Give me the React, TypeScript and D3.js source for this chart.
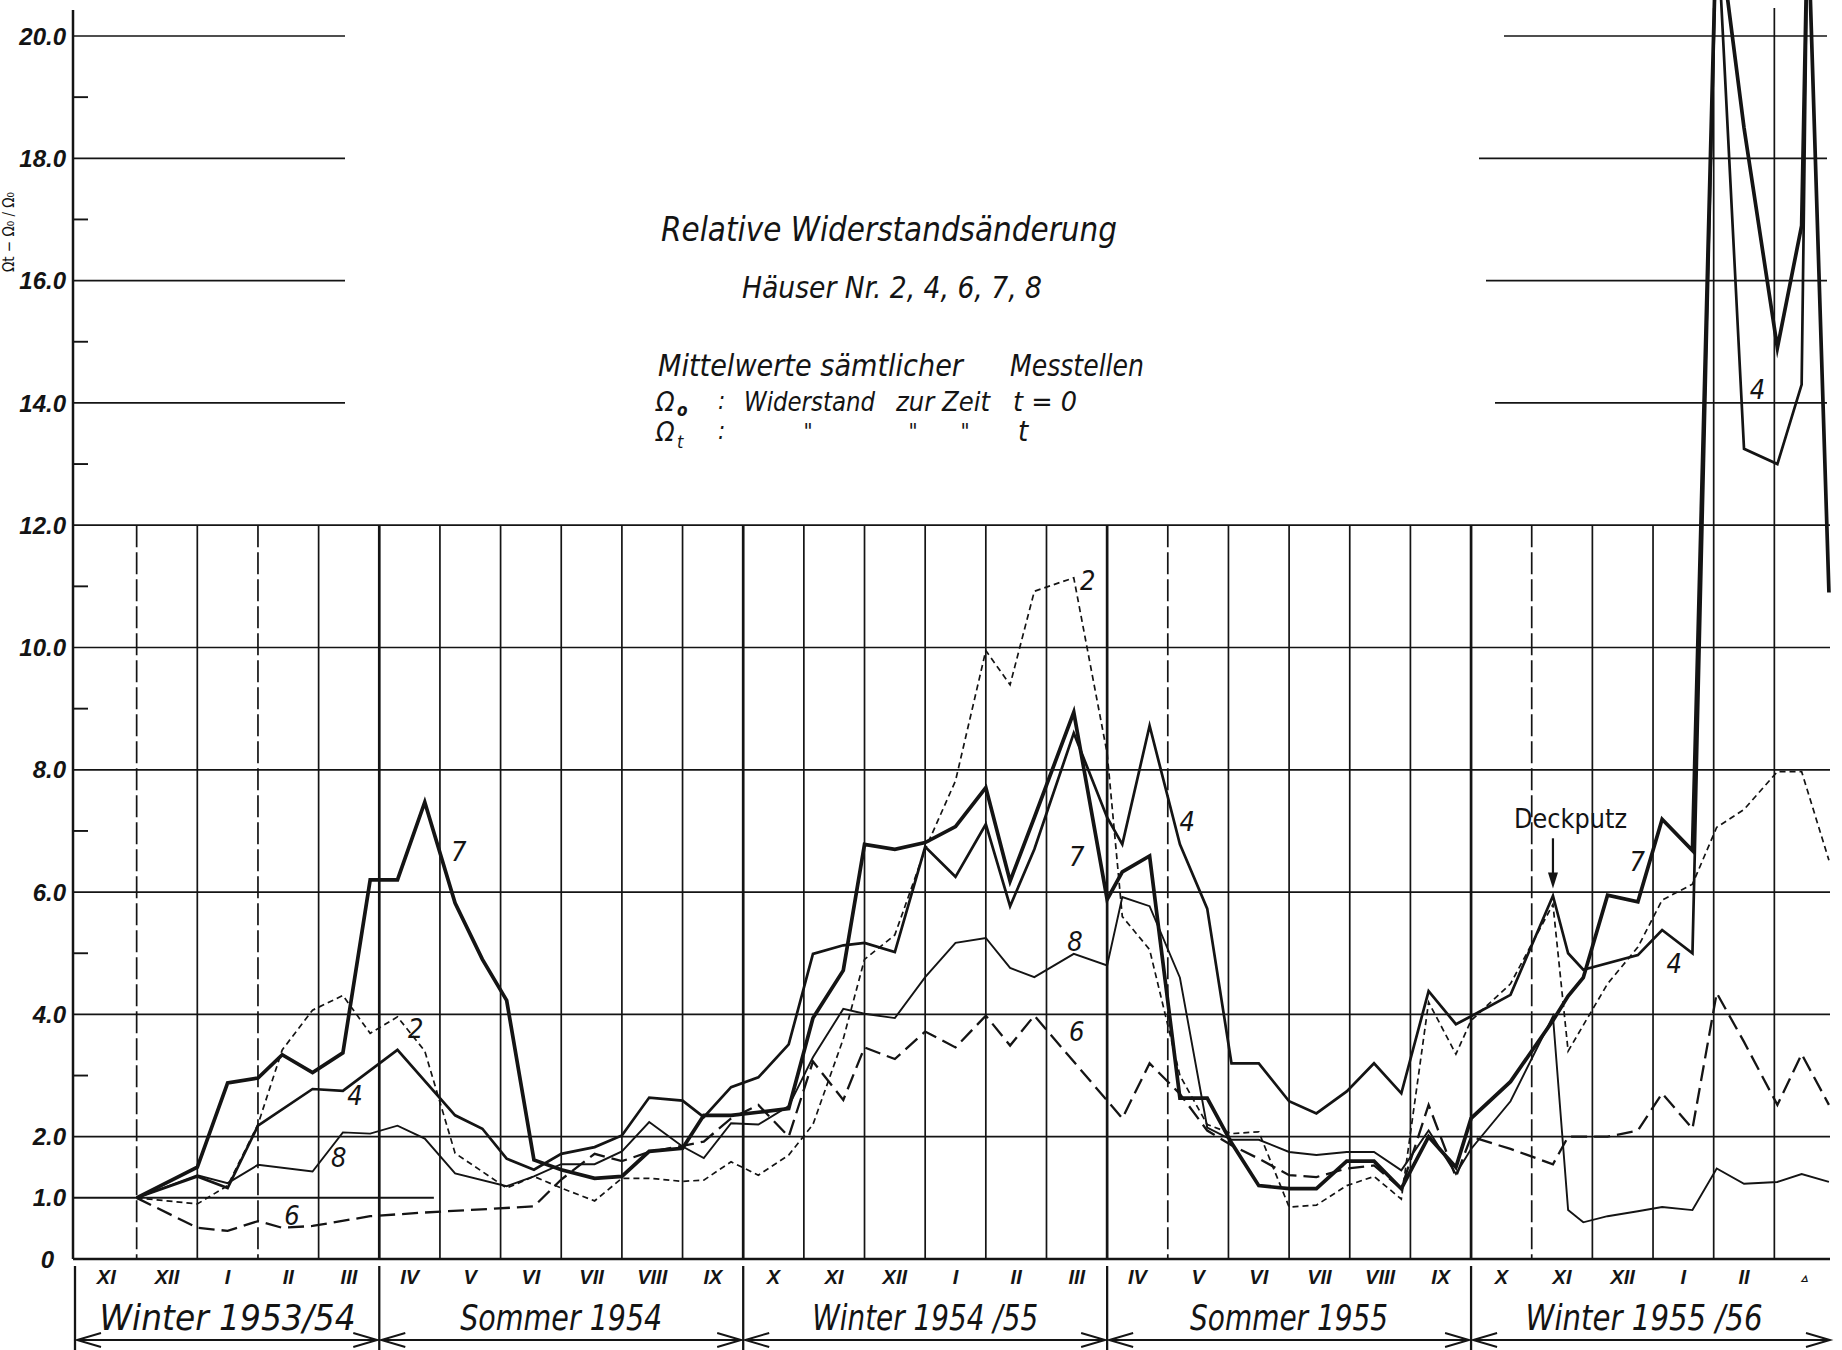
import React from 'react';
import * as d3 from 'd3';

const W = 1842;
const H = 1350;

// measurement times, in months counted from 1 Nov 1953
const times = [1.0, 2.0, 2.5, 3.0, 3.4, 3.9, 4.4, 4.85, 5.3, 5.75,
  6.25, 6.7, 7.1, 7.55, 8.0, 8.55, 9.0, 9.45, 10.0, 10.35,
  10.8, 11.25, 11.75, 12.15, 12.65, 13.0, 13.5, 14.0, 14.5, 15.0,
  15.4, 15.8, 16.45, 17.0, 17.25, 17.7, 18.2, 18.65, 19.05, 19.5,
  20.0, 20.45, 20.95, 21.4, 21.85, 22.3, 22.75, 23.0, 23.65, 24.35,
  24.6, 24.85, 25.25, 25.75, 26.15, 26.65, 27.05, 27.5, 28.05, 28.45,
  28.55, 28.9];

const house7 = [1.0, 1.5, 2.88, 2.96, 3.34, 3.05, 3.37, 6.2, 6.2, 7.47,
  5.82, 4.9, 4.23, 1.62, 1.46, 1.32, 1.35, 1.76, 1.81, 2.35,
  2.35, 2.4, 2.46, 3.94, 4.72, 6.78, 6.7, 6.81, 7.07, 7.71,
  6.18, 7.22, 8.94, 5.88, 6.33, 6.59, 2.63, 2.63, 1.9, 1.2,
  1.15, 1.15, 1.6, 1.6, 1.15, 2.0, 1.5, 2.3, 2.9, 3.9,
  4.3, 4.6, 5.95, 5.84, 7.19, 6.68, 22, 18.5, 14.9, 16.9,
  22, 10.9];

const house4 = [1.0, 1.35, 1.16, 2.18, null, 2.78, 2.75, null, 3.42, null,
  2.35, 2.13, 1.64, 1.46, 1.72, 1.83, 2.02, 2.64, 2.59, 2.32,
  2.81, 2.97, 3.51, 4.99, 5.13, 5.17, 5.02, 6.74, 6.25, 7.11,
  5.77, 6.7, 8.6, 7.22, 6.78, 8.72, 6.78, 5.73, 3.2, 3.2,
  2.58, 2.38, 2.74, 3.2, 2.71, 4.38, 3.84, 3.97, 4.32, 5.94,
  5.0, 4.73, null, 4.97, 5.38, 5.0, 22, 13.25, 13.0, 14.3,
  22, null];

const house8 = [1.0, 1.37, 1.24, 1.54, null, 1.43, 2.07, 2.05, 2.18, 1.97,
  1.4, null, 1.19, 1.35, 1.55, 1.55, 1.76, 2.24, 1.84, 1.65,
  2.22, 2.2, 2.5, 3.3, 4.09, 4.01, 3.94, 4.61, 5.17, 5.25,
  4.76, 4.61, 4.99, 4.8, 5.92, 5.77, 4.6, 2.15, 1.95, 1.95,
  1.75, 1.7, 1.75, 1.75, 1.45, 2.1, 1.39, 1.8, 2.58, 3.97,
  0.8, 0.6, 0.7, 0.78, 0.85, 0.8, 1.48, 1.23, 1.26, 1.39,
  null, 1.26];

const house2 = [1.0, 0.9, 1.2, 2.2, 3.42, 4.07, 4.31, 3.69, 3.96, 3.4,
  1.73, null, 1.16, 1.35, 1.16, 0.95, 1.32, 1.32, 1.27, 1.29,
  1.59, 1.37, 1.7, 2.2, 3.6, 4.9, 5.3, 6.7, 7.82, 9.95,
  9.39, 10.92, 11.14, 8.27, 5.6, 5.06, 3.0, 2.2, 2.05, 2.08,
  0.85, 0.88, 1.2, 1.35, 0.98, 4.2, 3.35, 3.9, 4.5, 5.8,
  3.4, null, 4.5, 5.1, 5.87, 6.13, 7.06, 7.35, 7.97, 7.97,
  null, 6.52];

const house6 = [1.0, 0.51, 0.46, 0.62, 0.51, 0.54, null, 0.7, null, 0.76,
  null, null, null, 0.86, 1.3, 1.72, 1.6, 1.75, 1.85, 1.92,
  2.3, 2.52, 2.0, 3.23, 2.6, 3.46, 3.27, 3.72, 3.46, 3.98,
  3.49, 3.98, null, null, 2.3, 3.2, 2.7, 2.1, 1.86, 1.64,
  1.37, 1.34, 1.48, 1.53, 1.15, 2.52, 1.34, 2.0, 1.8, 1.55,
  2.0, 2.0, 2.0, 2.1, 2.71, 2.13, 4.35, 3.55, 2.52, 3.35,
  null, 2.52];

const monthLabels = ['XI', 'XII', 'I', 'II', 'III', 'IV', 'V', 'VI', 'VII', 'VIII', 'IX',
  'X', 'XI', 'XII', 'I', 'II', 'III', 'IV', 'V', 'VI', 'VII', 'VIII', 'IX',
  'X', 'XI', 'XII', 'I', 'II', '\u25B5'];

const seasonNames = ['Winter 1953/54', 'Sommer 1954', 'Winter 1954 /55', 'Sommer 1955', 'Winter 1955 /56'];
const seasonBounds = [0, 5, 11, 17, 23, 29];

const yTickValues = [0, 1, 2, 4, 6, 8, 10, 12, 14, 16, 18, 20];
const minorTickValues = [3, 5, 7, 9, 11, 13, 15, 17, 19];

const seriesLabels = [
  { text: '7', t: 6.31, v: 6.66 }, { text: '2', t: 5.6, v: 3.77 }, { text: '4', t: 4.6, v: 2.67 },
  { text: '8', t: 4.33, v: 1.67 }, { text: '6', t: 3.56, v: 0.72 },
  { text: '2', t: 16.68, v: 11.1 }, { text: '7', t: 16.5, v: 6.59 }, { text: '8', t: 16.47, v: 5.2 },
  { text: '6', t: 16.5, v: 3.72 }, { text: '4', t: 18.32, v: 7.15 },
  { text: '7', t: 25.74, v: 6.51 }, { text: '4', t: 26.35, v: 4.84 }, { text: '4', t: 27.72, v: 14.23 },
];

const INK = '#141414';
const LETTER = "'DejaVu Sans Condensed', 'DejaVu Sans', sans-serif";
const NUMFONT = "'Liberation Sans', Arial, sans-serif";

export default function App() {
  const x = d3.scaleLinear().domain([0, 29]).range([76, 1835]);
  const y = d3.scaleLinear().domain([0, 20]).range([1259, 36]);
  const axisX = 73;
  const rightEnd = 1830;

  const line = d3.line<[number, number]>().x(d => x(d[0])).y(d => y(d[1]));
  const pts = (vals: (number | null)[]) =>
    times.map((t, i) => [t, vals[i]] as [number, number | null]).filter(d => d[1] != null) as [number, number][];

  const series = [
    { key: '6', values: house6, width: 2.3, dash: '16 7' },
    { key: '2', values: house2, width: 1.7, dash: '6 4' },
    { key: '8', values: house8, width: 1.9, dash: undefined },
    { key: '4', values: house4, width: 2.7, dash: undefined },
    { key: '7', values: house7, width: 3.7, dash: undefined },
  ];

  const upperRightStart: Record<number, number> = { 20: 1504, 18: 1479, 16: 1486, 14: 1495 };
  const dashedMonths = new Set([1, 3, 18, 24]);
  const thickMonths = new Set([5, 11, 17, 23]);

  const months = d3.range(1, 29);
  const arrowY = 1340;

  return (
    <svg width={W} height={H} viewBox={`0 0 ${W} ${H}`}
      style={{ position: 'absolute', left: 0, top: 0, background: '#fff' }}>
      <rect x={0} y={0} width={W} height={H} fill="#fff" />

      {/* horizontal grid lines */}
      <g stroke={INK} strokeWidth={1.7}>
        {[2, 4, 6, 8, 10, 12].map(v => (
          <line key={'h' + v} x1={axisX} x2={rightEnd} y1={y(v)} y2={y(v)} />
        ))}
        <line x1={axisX} x2={x(5.9)} y1={y(1)} y2={y(1)} strokeWidth={2} />
        {[14, 16, 18, 20].map(v => (
          <g key={'u' + v}>
            <line x1={axisX} x2={345} y1={y(v)} y2={y(v)} />
            <line x1={upperRightStart[v]} x2={1827} y1={y(v)} y2={y(v)} />
          </g>
        ))}
        <line x1={axisX} x2={rightEnd} y1={y(0)} y2={y(0)} strokeWidth={2.3} />
      </g>

      {/* vertical month grid lines */}
      <g stroke={INK}>
        {months.map(k => (
          <line key={'v' + k} x1={x(k)} x2={x(k)}
            y1={k >= 27 ? 8 : y(12)} y2={y(0)}
            strokeWidth={thickMonths.has(k) ? 2.7 : 1.7}
            strokeDasharray={dashedMonths.has(k) ? '22 5' : undefined} />
        ))}
      </g>

      {/* y axis */}
      <g stroke={INK}>
        <line x1={axisX} x2={axisX} y1={10} y2={y(0)} strokeWidth={2.5} />
        {minorTickValues.map(v => (
          <line key={'m' + v} x1={axisX} x2={axisX + 15} y1={y(v)} y2={y(v)} strokeWidth={1.9} />
        ))}
      </g>
      <g fontFamily={NUMFONT} fontWeight="bold" fontStyle="italic" fontSize={24} fill={INK} textAnchor="end">
        {yTickValues.map(v => (
          <text key={'t' + v} x={v === 0 ? 54 : 66} y={y(v)} dy="0.36em">{v === 0 ? '0' : v.toFixed(1)}</text>
        ))}
      </g>
      <text transform="translate(14,232) rotate(-90)" fontFamily={LETTER} fontSize={15} fill={INK}
        textAnchor="middle">{'\u03A9t \u2212 \u03A9\u2080 / \u03A9\u2080'}</text>

      {/* data lines */}
      <g fill="none" stroke={INK} strokeLinejoin="miter" strokeMiterlimit={6}>
        {series.map(s => (
          <path key={s.key} d={line(pts(s.values)) || ''} strokeWidth={s.width}
            strokeDasharray={s.dash} />
        ))}
      </g>

      {/* series numbers */}
      <g fontFamily={LETTER} fontStyle="italic" fontSize={27} fill={INK} textAnchor="middle">
        {seriesLabels.map((l, i) => (
          <text key={'l' + i} x={x(l.t)} y={y(l.v)} dy="0.36em">{l.text}</text>
        ))}
      </g>

      {/* Deckputz annotation */}
      <text x={x(24.64)} y={y(7.2)} dy="0.36em" fontFamily={LETTER} fontSize={27} fill={INK}
        textAnchor="middle" textLength={113} lengthAdjust="spacingAndGlyphs">Deckputz</text>
      <line x1={x(24.35)} x2={x(24.35)} y1={y(6.88)} y2={y(6.3)} stroke={INK} strokeWidth={2.2} />
      <path d={`M${x(24.35) - 5},${y(6.32)} L${x(24.35) + 5},${y(6.32)} L${x(24.35)},${y(6.06)} Z`} fill={INK} />

      {/* title block */}
      <g fontFamily={LETTER} fontStyle="italic" fill={INK}>
        <text x={889} y={241} fontSize={34} textAnchor="middle" textLength={456}
          lengthAdjust="spacingAndGlyphs">Relative Widerstandsänderung</text>
        <text x={892} y={298} fontSize={30} textAnchor="middle" textLength={300}
          lengthAdjust="spacingAndGlyphs">Häuser Nr. 2, 4, 6, 7, 8</text>
        <text x={658} y={376} fontSize={31} textLength={305}
          lengthAdjust="spacingAndGlyphs">Mittelwerte sämtlicher</text>
        <text x={1010} y={376} fontSize={31} textLength={134}
          lengthAdjust="spacingAndGlyphs">Messtellen</text>

        <text x={656} y={411} fontSize={27}>{'\u03A9'}</text>
        <text x={677} y={416} fontSize={17} fontWeight="bold">o</text>
        <text x={718} y={409} fontSize={24}>:</text>
        <text x={744} y={411} fontSize={27} textLength={131} lengthAdjust="spacingAndGlyphs">Widerstand</text>
        <text x={896} y={411} fontSize={27} textLength={94} lengthAdjust="spacingAndGlyphs">zur Zeit</text>
        <text x={1013} y={411} fontSize={27} textLength={64} lengthAdjust="spacingAndGlyphs">t = 0</text>

        <text x={656} y={441} fontSize={27}>{'\u03A9'}</text>
        <text x={677} y={448} fontSize={18}>t</text>
        <text x={718} y={439} fontSize={24}>:</text>
        <text x={808} y={439} fontSize={22} textAnchor="middle">"</text>
        <text x={913} y={439} fontSize={22} textAnchor="middle">"</text>
        <text x={965} y={439} fontSize={22} textAnchor="middle">"</text>
        <text x={1023} y={441} fontSize={29} textAnchor="middle">t</text>
      </g>

      {/* month labels */}
      <g fontFamily={NUMFONT} fontWeight="bold" fontStyle="italic" fill={INK} textAnchor="middle">
        {monthLabels.map((m, i) => (
          <text key={'ml' + i} x={x(i + 0.5)} y={1277} dy="0.36em"
            fontSize={i === 28 ? 13 : 20}>{m}</text>
        ))}
      </g>

      {/* season separators, labels and arrows */}
      <g stroke={INK} strokeWidth={2.3}>
        {seasonBounds.slice(0, 5).map((b, i) => (
          <line key={'sep' + i} x1={i === 0 ? axisX + 2 : x(b)} x2={i === 0 ? axisX + 2 : x(b)} y1={1266} y2={1350} />
        ))}
      </g>
      <g fill="none" stroke={INK} strokeWidth={1.9}>
        {seasonNames.map((s, i) => {
          const x0 = (i === 0 ? axisX + 2 : x(seasonBounds[i])) + 2;
          const x1 = i === 4 ? 1830 : x(seasonBounds[i + 1]) - 2;
          return (
            <g key={'ar' + i}>
              <line x1={x0} x2={x1} y1={arrowY} y2={arrowY} />
              <path d={`M${x0 + 24},${arrowY - 7} L${x0},${arrowY} L${x0 + 24},${arrowY + 7}`} />
              <path d={`M${x1 - 24},${arrowY - 7} L${x1},${arrowY} L${x1 - 24},${arrowY + 7}`} />
            </g>
          );
        })}
      </g>
      <g fontFamily={LETTER} fontStyle="italic" fontSize={36} fill={INK} textAnchor="middle">
        {seasonNames.map((s, i) => {
          const lens = [256, 202, 226, 198, 237];
          const cx = (x(seasonBounds[i]) + x(Math.min(seasonBounds[i + 1], 28.6))) / 2;
          return (
            <text key={'sn' + i} x={i === 4 ? 1644 : cx} y={1330} textLength={lens[i]}
              lengthAdjust="spacingAndGlyphs">{s}</text>
          );
        })}
      </g>
    </svg>
  );
}
